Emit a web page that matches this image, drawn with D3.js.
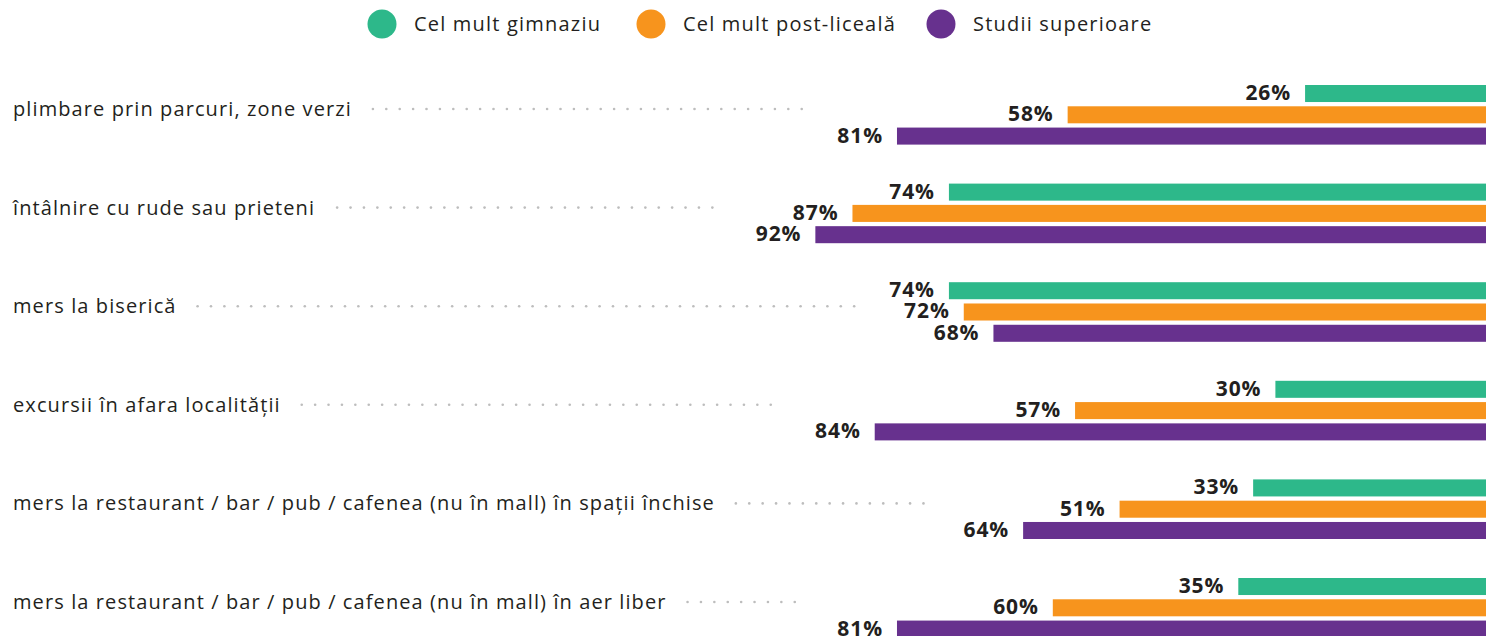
<!DOCTYPE html>
<html lang="ro">
<head>
    <meta charset="UTF-8">
    <title>Activitati</title>
    <script src="https://d3js.org/d3.v7.min.js"></script>
    <style>
        body { margin: 0; background: #fff; }
        svg text { font-family: "Open Sans", "Noto Sans", sans-serif; fill: #231f20; }
        .cat { font-size: 20px; letter-spacing: 1.1px; }
        .val { font-size: 21px; font-weight: 700; letter-spacing: 0.9px; }
        .leg { font-size: 20px; letter-spacing: 1.2px; }
    </style>
</head>
<body>
<script>

    // data
    var categories = [
        "plimbare prin parcuri, zone verzi",
        "întâlnire cu rude sau prieteni",
        "mers la biserică",
        "excursii în afara localității",
        "mers la restaurant / bar / pub / cafenea (nu în mall) în spații închise",
        "mers la restaurant / bar / pub / cafenea (nu în mall) în aer liber"
    ];
    var series = ["Cel mult gimnaziu", "Cel mult post-liceală", "Studii superioare"];
    var colors = ["#2db88a", "#f7941d", "#67318e"];

    var gimnaziu = [26, 74, 74, 30, 33, 35];
    var postLiceala = [58, 87, 72, 57, 51, 60];
    var superioare = [81, 92, 68, 84, 64, 81];

    var values = [gimnaziu, postLiceala, superioare];

    var width = 1486;
    var height = 636;

    var svg = d3.select("body")
        .append("svg")
        .attr("width", width)
        .attr("height", height);

    // bars grow leftwards from the right edge (zero sits just past the edge)
    var x = d3.scaleLinear()
        .domain([0, 100])
        .range([1498, 756]);

    var y0 = d3.scaleBand()
        .domain(categories)
        .range([85, 85 + categories.length * 98.6]);

    var y1 = d3.scaleBand()
        .domain(series)
        .range([0, 59.6])
        .paddingInner(0.2);

    var color = d3.scaleOrdinal()
        .domain(series)
        .range(colors);

    // legend
    var legendX = [382, 651, 941];
    var legend = svg.append("g")
        .selectAll("g")
        .data(series)
        .enter()
        .append("g")
        .attr("transform", function(d, i) { return "translate(" + legendX[i] + ",24)"; });

    legend.append("circle")
        .attr("r", 14.5)
        .attr("fill", function(d) { return color(d); });

    legend.append("text")
        .attr("class", "leg")
        .attr("x", 32)
        .attr("dy", "0.35em")
        .text(function(d) { return d; });

    // groups
    var groups = svg.selectAll(".group")
        .data(categories)
        .enter()
        .append("g")
        .attr("class", "group")
        .attr("transform", function(d) { return "translate(0," + y0(d) + ")"; });

    groups.each(function(cat, ci) {
        var g = d3.select(this);

        var rows = series.map(function(s, si) {
            return { s: s, v: values[si][ci] };
        });

        g.selectAll("rect")
            .data(rows)
            .enter()
            .append("rect")
            .attr("x", function(d) { return x(d.v); })
            .attr("y", function(d) { return y1(d.s); })
            .attr("width", function(d) { return x(0) - x(d.v); })
            .attr("height", y1.bandwidth())
            .attr("fill", function(d) { return color(d.s); });

        var labels = g.selectAll(".val")
            .data(rows)
            .enter()
            .append("text")
            .attr("class", "val")
            .attr("x", function(d) { return x(d.v) - 14; })
            .attr("y", function(d) { return y1(d.s) + 15; })
            .attr("text-anchor", "end")
            .text(function(d) { return d.v + "%"; });

        var label = g.append("text")
            .attr("class", "cat")
            .attr("x", 13)
            .attr("y", 31)
            .text(cat);

        // dotted leader from the label towards the values
        var start = 13 + label.node().getBBox().width + 21;
        var minLabel = d3.min(labels.nodes(), function(n) { return n.getBBox().x; });
        var end = minLabel - 32;
        var dots = d3.range(start, end + 0.1, 13.4);

        g.selectAll(".dot")
            .data(dots)
            .enter()
            .append("circle")
            .attr("class", "dot")
            .attr("cx", function(d) { return d; })
            .attr("cy", 24)
            .attr("r", 1.3)
            .attr("fill", "#bdbdbd");
    });

</script>
</body>
</html>
